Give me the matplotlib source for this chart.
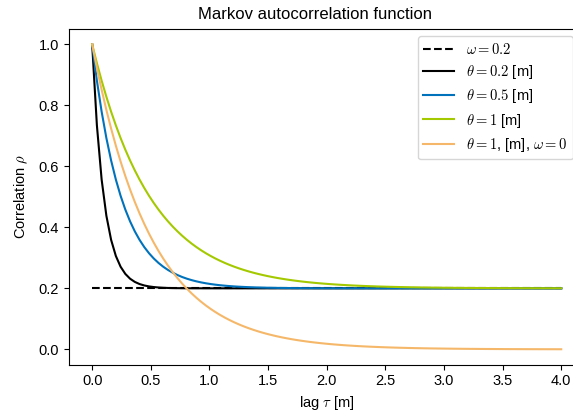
import numpy as np
import matplotlib.pyplot as plt

plt.rcParams['font.family'] = ['Liberation Sans', 'DejaVu Sans']
plt.rcParams['mathtext.fontset'] = 'cm'
plt.rcParams['xtick.direction'] = 'out'
plt.rcParams['ytick.direction'] = 'out'

# parameters of the curves (theta = correlation length, omega = floor)
omega_floor = 0.2
thetas = [0.2, 0.5, 1.0, 1.0]
omegas = [0.2, 0.2, 0.2, 0.0]
colors = ['black', '#0072BC', '#A4C900', '#F5B86A']
labels = [r'$\theta = 0.2$ [m]', r'$\theta = 0.5$ [m]', r'$\theta = 1$ [m]',
          r'$\theta = 1$, [m], $\omega = 0$']

tau = np.linspace(0, 4, 100)

fig = plt.figure(figsize=(5.73, 4.15), dpi=100)
ax = fig.add_axes([68.7 / 573, 1 - 364.5 / 415, 516 / 573, 335.5 / 415])

ax.plot(tau, np.full_like(tau, omega_floor), 'k--', lw=1.5,
        label=r'$\omega = 0.2$')
for th, om, c, lab in zip(thetas, omegas, colors, labels):
    rho = om + (1 - om) * np.exp(-2 * tau / th)
    ax.plot(tau, rho, color=c, lw=1.5, label=lab)

ax.set_xticks(np.arange(0, 4.01, 0.5))
ax.set_yticks([0.0, 0.2, 0.4, 0.6, 0.8, 1.0])
ax.tick_params(labelsize=10.5)
ax.set_title('Markov autocorrelation function', fontsize=12, pad=7, x=0.477)
ax.set_xlabel(r'lag $\tau$ [m]', fontsize=10.5)
ax.set_ylabel(r'Correlation $\rho$', fontsize=10.5, labelpad=6)
leg = ax.legend(loc='upper left', bbox_to_anchor=(0.662, 1.0), fontsize=10.5,
                labelspacing=0.42, handlelength=2.1)

fig.savefig('out.png', dpi=100)
